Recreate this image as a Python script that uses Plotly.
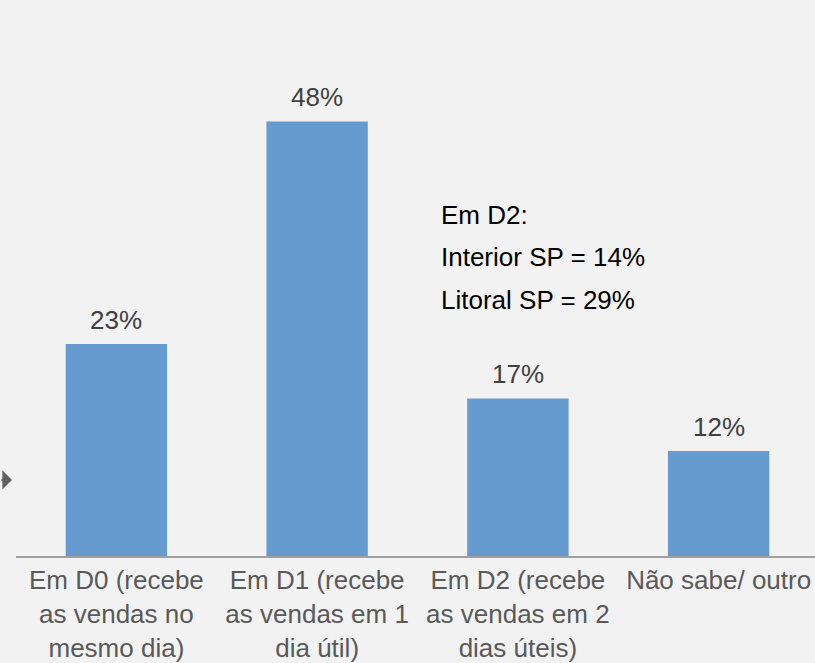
import plotly.graph_objects as go

# Dados
categorias = [
    "Em D0 (recebe<br>as vendas no<br>mesmo dia)",
    "Em D1 (recebe<br>as vendas em 1<br>dia útil)",
    "Em D2 (recebe<br>as vendas em 2<br>dias úteis)",
    "Não sabe/ outro<br> <br> ",
]
valores = [23.4, 48, 17.4, 11.6]
rotulos = ["23%", "48%", "17%", "12%"]
nota_linhas = ["Em D2:", "Interior SP = 14%", "Litoral SP = 29%"]

fonte = "Liberation Sans, Arial, sans-serif"

fig = go.Figure()
fig.add_trace(go.Bar(
    x=categorias, y=valores,
    marker=dict(color="#659BCF", line=dict(width=0)),
    width=0.505,
    hoverinfo="skip",
))

# Rótulos de valor acima das barras
for cat, val, rot in zip(categorias, valores, rotulos):
    fig.add_annotation(
        x=cat, y=val, xref="x", yref="y",
        yanchor="bottom", yshift=7, text=rot, showarrow=False,
        font=dict(family=fonte, size=26, color="#404040"),
    )

# Nota sobre D2 (uma anotação por linha, espaçamento maior)
for i, linha in enumerate(nota_linhas):
    fig.add_annotation(
        x=0.527, y=0.685 - i * 0.0855, xref="paper", yref="paper",
        xanchor="left", yanchor="middle", align="left",
        text=linha, showarrow=False,
        font=dict(family=fonte, size=26, color="#000000"),
    )

# Seta parcialmente cortada à esquerda
fig.add_annotation(
    x=-0.005, y=8.4, xref="paper", yref="y",
    ax=-40, ay=0, showarrow=True, arrowhead=1, arrowsize=1.6,
    arrowwidth=2, arrowcolor="#606060", text="",
)

fig.update_layout(
    width=819, height=663,
    margin=dict(l=16, r=0, t=58, b=107),
    paper_bgcolor="#F2F2F2", plot_bgcolor="#F2F2F2",
    showlegend=False, bargap=0.5,
    font=dict(family=fonte, size=26, color="#595959"),
)
fig.update_xaxes(
    showline=True, linecolor="#A0A0A0", linewidth=2,
    showgrid=False, ticks="", ticklabelstandoff=0,
    tickfont=dict(family=fonte, size=26, color="#595959"),
)
fig.update_yaxes(range=[0, 55], visible=False, showgrid=False)

fig.write_html("out.html", config={"displayModeBar": False},
               post_script="document.body.style.margin='0px';"
                           "document.body.style.overflow='hidden';")
